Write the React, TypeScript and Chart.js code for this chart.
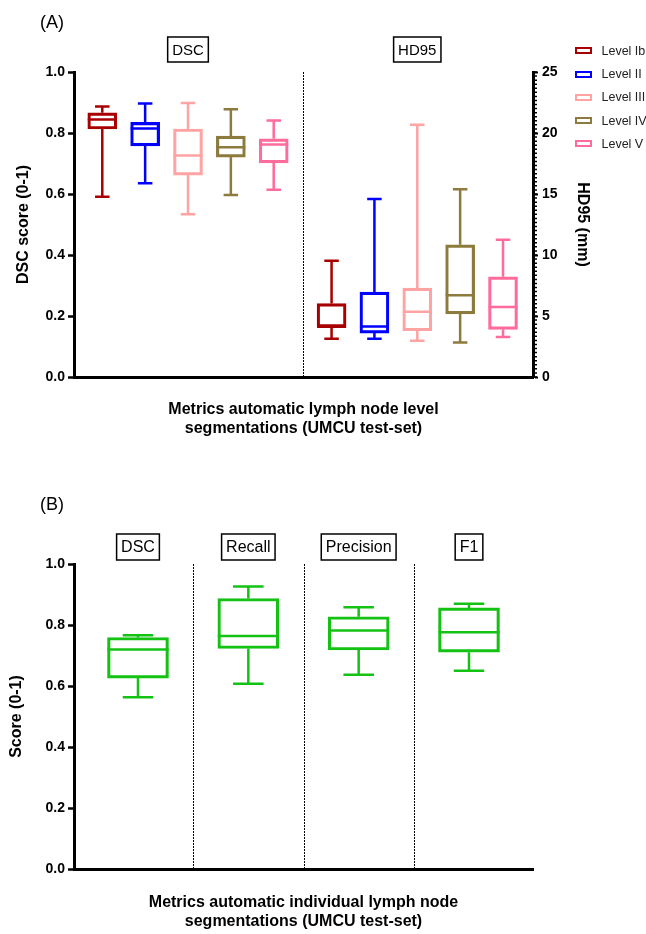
import React, { useEffect, useRef } from 'react';
import { Chart, registerables } from 'chart.js';

Chart.register(...registerables);

const FONT = '"Liberation Sans", Arial, Helvetica, sans-serif';

// ---------- Panel A data ----------
const levels = ['Level Ib', 'Level II', 'Level III', 'Level IV', 'Level V'];
const levelColors = ['#A80000', '#0000FF', '#FFA3A3', '#8C7B3C', '#FF6B9B'];
const groupsA = ['DSC', 'HD95'];
const dscMin = [0.591, 0.635, 0.534, 0.597, 0.614];
const dscQ1 = [0.813, 0.758, 0.662, 0.721, 0.702];
const dscMed = [0.844, 0.815, 0.726, 0.753, 0.762];
const dscQ3 = [0.866, 0.835, 0.813, 0.790, 0.781];
const dscMax = [0.887, 0.897, 0.898, 0.878, 0.841];
const hdMin = [3.13, 3.13, 2.97, 2.83, 3.27];
const hdQ1 = [4.09, 3.60, 3.79, 5.18, 3.90];
const hdMed = [4.11, 4.14, 5.34, 6.71, 5.73];
const hdQ3 = [6.02, 6.96, 7.28, 10.83, 8.21];
const hdMax = [9.52, 14.59, 20.67, 15.38, 11.24];
const titleA = ['Metrics automatic lymph node level', 'segmentations (UMCU test-set)'];
const yTitleA = 'DSC score (0-1)';
const y2TitleA = 'HD95 (mm)';

// ---------- Panel B data ----------
const metricsB = ['DSC', 'Recall', 'Precision', 'F1'];
const colorB = '#14C214';
const bMin = [0.563, 0.607, 0.637, 0.650];
const bQ1 = [0.626, 0.723, 0.718, 0.711];
const bMed = [0.720, 0.764, 0.782, 0.776];
const bQ3 = [0.759, 0.887, 0.827, 0.856];
const bMax = [0.766, 0.926, 0.858, 0.870];
const titleB = ['Metrics automatic individual lymph node', 'segmentations (UMCU test-set)'];
const yTitleB = 'Score (0-1)';

// layout helpers
const GAP_A = 0.35;
const xPosA = (g: number, i: number) => g * (levels.length + GAP_A) + i;

function boxPlugin(lineWidth: number) {
  return {
    id: 'boxWhiskers',
    afterDatasetsDraw(chart: any) {
      const ctx = chart.ctx;
      chart.data.datasets.forEach((ds: any, di: number) => {
        const meta = chart.getDatasetMeta(di);
        const ys = chart.scales[meta.yAxisID];
        const st = ds.stats;
        if (!st) return;
        meta.data.forEach((el: any, i: number) => {
          const x = el.x;
          const w = el.width;
          const pMin = ys.getPixelForValue(st.min[i]);
          const pMax = ys.getPixelForValue(st.max[i]);
          const pMed = ys.getPixelForValue(st.med[i]);
          const pQ1 = ys.getPixelForValue(ds.data[i].y[0]);
          const pQ3 = ys.getPixelForValue(ds.data[i].y[1]);
          ctx.save();
          ctx.strokeStyle = ds.borderColor;
          ctx.lineWidth = lineWidth;
          ctx.lineCap = 'butt';
          ctx.beginPath();
          ctx.moveTo(x - w / 2, pMed);
          ctx.lineTo(x + w / 2, pMed);
          ctx.moveTo(x, pQ3);
          ctx.lineTo(x, pMax);
          ctx.moveTo(x - w / 4, pMax);
          ctx.lineTo(x + w / 4, pMax);
          ctx.moveTo(x, pQ1);
          ctx.lineTo(x, pMin);
          ctx.moveTo(x - w / 4, pMin);
          ctx.lineTo(x + w / 4, pMin);
          ctx.stroke();
          ctx.restore();
        });
      });
    },
  };
}

function headerPlugin(labels: string[], centers: number[], size: number, height: number, gap: number) {
  return {
    id: 'groupHeaders',
    afterDraw(chart: any) {
      const { ctx, chartArea, scales } = chart;
      ctx.save();
      ctx.font = `${size}px ${FONT}`;
      ctx.textAlign = 'center';
      ctx.textBaseline = 'middle';
      ctx.fillStyle = '#000';
      ctx.strokeStyle = '#000';
      ctx.lineWidth = 1.5;
      labels.forEach((lab, i) => {
        const cx = scales.x.getPixelForValue(centers[i]);
        const w = ctx.measureText(lab).width + 9;
        const bottom = chartArea.top - gap;
        ctx.strokeRect(cx - w / 2, bottom - height, w, height);
        ctx.fillText(lab, cx, bottom - height / 2 + 1);
      });
      ctx.restore();
    },
  };
}

function dividerPlugin(positions: number[]) {
  return {
    id: 'dividers',
    beforeDatasetsDraw(chart: any) {
      const { ctx, chartArea, scales } = chart;
      ctx.save();
      ctx.strokeStyle = '#000';
      ctx.lineWidth = 1;
      ctx.setLineDash([2, 1]);
      positions.forEach((p) => {
        const x = Math.round(scales.x.getPixelForValue(p)) + 0.5;
        ctx.beginPath();
        ctx.moveTo(x, chartArea.top);
        ctx.lineTo(x, chartArea.bottom);
        ctx.stroke();
      });
      ctx.restore();
    },
  };
}

function minorTickPlugin(axisId: string, max: number, step: number) {
  return {
    id: 'minorTicks',
    afterDraw(chart: any) {
      const { ctx } = chart;
      const s = chart.scales[axisId];
      ctx.save();
      ctx.strokeStyle = '#000';
      ctx.lineWidth = 1.5;
      const n = Math.round(max / step);
      ctx.beginPath();
      for (let k = 0; k <= n; k++) {
        const y = s.getPixelForValue(k * step);
        ctx.moveTo(s.left, y);
        ctx.lineTo(s.left + 4, y);
      }
      ctx.stroke();
      ctx.restore();
    },
  };
}

const tickFont = { family: FONT, size: 14, weight: 'bold' as const };
const titleFont = { family: FONT, size: 16, weight: 'bold' as const, lineHeight: 1.2 };

function configA(): any {
  const datasets: any[] = [];
  levels.forEach((lab, i) => {
    const common = {
      borderColor: levelColors[i],
      backgroundColor: 'rgba(0,0,0,0)',
      borderWidth: 2.5,
      borderSkipped: false,
      barThickness: 29,
      grouped: false,
    };
    datasets.push({
      ...common,
      label: lab,
      yAxisID: 'y',
      data: [{ x: xPosA(0, i), y: [dscQ1[i], dscQ3[i]] }],
      stats: { min: [dscMin[i]], med: [dscMed[i]], max: [dscMax[i]] },
    });
    datasets.push({
      ...common,
      label: lab + ' (HD95)',
      yAxisID: 'y2',
      data: [{ x: xPosA(1, i), y: [hdQ1[i], hdQ3[i]] }],
      stats: { min: [hdMin[i]], med: [hdMed[i]], max: [hdMax[i]] },
    });
  });
  const n = levels.length;
  return {
    type: 'bar',
    data: { datasets },
    options: {
      responsive: false,
      animation: false,
      devicePixelRatio: 1,
      events: [],
      layout: { padding: { top: 72, left: 0, right: 0, bottom: 23 } },
      plugins: { legend: { display: false }, tooltip: { enabled: false } },
      scales: {
        x: {
          type: 'linear',
          min: -0.66,
          max: xPosA(1, n - 1) + 0.7,
          offset: false,
          ticks: { display: false },
          grid: { display: false },
          border: { display: true, width: 3, color: '#000' },
          title: { display: true, text: titleA, color: '#000', font: { ...titleFont, lineHeight: 1.15 }, padding: { top: 0, bottom: 9.4 } },
          afterFit: (s: any) => { s.height = 70; },
        },
        y: {
          type: 'linear',
          position: 'left',
          min: 0,
          max: 1,
          ticks: { stepSize: 0.2, color: '#000', font: tickFont, padding: 3, callback: (v: any) => Number(v).toFixed(1) },
          grid: { display: true, drawOnChartArea: false, drawTicks: true, tickLength: 6, tickWidth: 2.5, tickColor: '#000' },
          border: { display: true, width: 3, color: '#000' },
          title: { display: true, text: yTitleA, color: '#000', font: titleFont, padding: { top: 14, bottom: 0 } },
          afterFit: (s: any) => { s.width = 74; },
        },
        y2: {
          type: 'linear',
          position: 'right',
          min: 0,
          max: 25,
          ticks: { stepSize: 5, color: '#000', font: tickFont, padding: 4 },
          grid: { display: true, drawOnChartArea: false, drawTicks: true, tickLength: 5, tickWidth: 2, tickColor: '#000' },
          border: { display: true, width: 3, color: '#000' },
          title: { display: true, text: y2TitleA, color: '#000', font: titleFont, padding: { top: 54, bottom: 0 } },
          afterFit: (s: any) => { s.width = 113; },
        },
      },
    },
    plugins: [
      dividerPlugin([(xPosA(0, n - 1) + xPosA(1, 0)) / 2]),
      boxPlugin(2.5),
      headerPlugin(groupsA, [xPosA(0, (n - 1) / 2), xPosA(1, (n - 1) / 2)], 15, 25, 10),
      minorTickPlugin('y2', 25, 1 / 3),
    ],
  };
}

function configB(): any {
  const datasets = [
    {
      label: 'Score',
      yAxisID: 'y',
      borderColor: colorB,
      backgroundColor: 'rgba(0,0,0,0)',
      borderWidth: 2.5,
      borderSkipped: false,
      barThickness: 61,
      grouped: false,
      data: metricsB.map((_, i) => ({ x: i, y: [bQ1[i], bQ3[i]] })),
      stats: { min: bMin, med: bMed, max: bMax },
    },
  ];
  const m = metricsB.length;
  return {
    type: 'bar',
    data: { datasets },
    options: {
      responsive: false,
      animation: false,
      devicePixelRatio: 1,
      events: [],
      layout: { padding: { top: 94, left: 0, right: 113, bottom: 3 } },
      plugins: { legend: { display: false }, tooltip: { enabled: false } },
      scales: {
        x: {
          type: 'linear',
          min: -0.58,
          max: m - 1 + 0.58,
          offset: false,
          ticks: { display: false },
          grid: { display: false },
          border: { display: true, width: 3, color: '#000' },
          title: { display: true, text: titleB, color: '#000', font: titleFont, padding: { top: 0, bottom: 0 } },
          afterFit: (s: any) => { s.height = 62; },
        },
        y: {
          type: 'linear',
          position: 'left',
          min: 0,
          max: 1,
          ticks: { stepSize: 0.2, color: '#000', font: tickFont, padding: 3, callback: (v: any) => Number(v).toFixed(1) },
          grid: { display: true, drawOnChartArea: false, drawTicks: true, tickLength: 6, tickWidth: 2.5, tickColor: '#000' },
          border: { display: true, width: 3, color: '#000' },
          title: { display: true, text: yTitleB, color: '#000', font: titleFont, padding: { top: 7, bottom: 0 } },
          afterFit: (s: any) => { s.width = 74; },
        },
      },
    },
    plugins: [
      dividerPlugin(metricsB.slice(1).map((_, i) => i + 0.5)),
      boxPlugin(2.5),
      headerPlugin(metricsB, metricsB.map((_, i) => i), 16, 26, 4),
    ],
  };
}

export default function App() {
  const refA = useRef<HTMLCanvasElement>(null);
  const refB = useRef<HTMLCanvasElement>(null);

  useEffect(() => {
    const a = new Chart(refA.current as HTMLCanvasElement, configA());
    const b = new Chart(refB.current as HTMLCanvasElement, configB());
    return () => {
      a.destroy();
      b.destroy();
    };
  }, []);

  return (
    <div style={{ position: 'absolute', left: 0, top: 0, width: 646, height: 934, background: '#fff', fontFamily: FONT, overflow: 'hidden' }}>
      <canvas ref={refA} width={646} height={470} style={{ position: 'absolute', left: 0, top: 0, width: 646, height: 470 }} />
      <canvas ref={refB} width={646} height={464} style={{ position: 'absolute', left: 0, top: 470, width: 646, height: 464 }} />
      <div style={{ position: 'absolute', left: 40, top: 12, fontSize: 18, lineHeight: '21px', color: '#000' }}>(A)</div>
      <div style={{ position: 'absolute', left: 40, top: 494, fontSize: 18, lineHeight: '21px', color: '#000' }}>(B)</div>
      {levels.map((lab, i) => (
        <div key={lab} style={{ position: 'absolute', left: 575, top: 40.7 + i * 23.3, height: 20, display: 'flex', alignItems: 'center' }}>
          <div style={{ width: 17, height: 7, boxSizing: 'border-box', border: `2px solid ${levelColors[i]}`, background: '#fff' }} />
          <div style={{ marginLeft: 9.5, fontSize: 12.5, color: '#222', whiteSpace: 'nowrap' }}>{lab}</div>
        </div>
      ))}
    </div>
  );
}
